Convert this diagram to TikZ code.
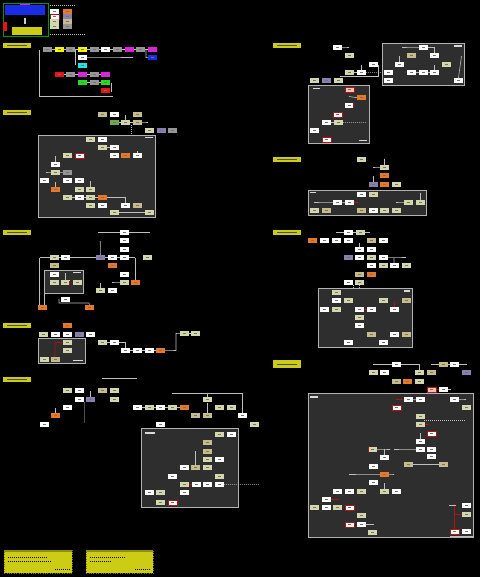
\documentclass[tikz,border=0pt]{standalone}
\definecolor{kh}{RGB}{212,214,172}
\definecolor{khp}{RGB}{196,188,138}
\definecolor{org}{RGB}{232,120,40}
\definecolor{pur}{RGB}{136,126,176}
\definecolor{gry}{RGB}{150,150,150}
\definecolor{pnl}{RGB}{46,46,46}
\definecolor{yel}{RGB}{204,204,20}
\definecolor{ln}{RGB}{190,190,190}
\definecolor{rd}{RGB}{175,20,20}
\definecolor{pnk}{RGB}{240,196,176}
\definecolor{grn}{RGB}{110,170,70}
\definecolor{cma}{RGB}{225,30,225}
\definecolor{cye}{RGB}{245,245,0}
\definecolor{cbl}{RGB}{25,45,230}
\definecolor{ccy}{RGB}{30,230,230}
\definecolor{cre}{RGB}{230,20,20}
\definecolor{cgr}{RGB}{30,225,30}
\newcommand\bx[4]{\node[#4] (#1) at (#2,#3) {\textcolor{black!55}{\rule{2.5pt}{0.8pt}}};}
\begin{document}
\begin{tikzpicture}[x={(1pt,0)},y={(0,-1pt)},
 bb/.style={inner sep=0pt, minimum width=8.5pt, minimum height=5pt, anchor=north west, font=\fontsize{2}{2}\selectfont},
 wb/.style={bb, fill=white},
 kb/.style={bb, fill=kh},
 kp/.style={bb, fill=khp},
 ob/.style={bb, fill=org},
 pb/.style={bb, fill=pur},
 gb/.style={bb, fill=gry},
 rb/.style={bb, fill=white, draw=rd, line width=0.7pt},
 pkb/.style={bb, fill=pnk, draw=rd, line width=0.7pt},
 gnb/.style={bb, fill=grn},
 cn/.style={draw=ln, line width=0.6pt},
 dcn/.style={draw=ln, line width=0.5pt, dash pattern=on 1pt off 1pt},
 rl/.style={draw=rd, line width=0.8pt},
 panel/.style={fill=pnl, draw=gray!60, line width=0.5pt},
 ylab/.style={fill=yel, inner sep=0pt, anchor=north west, minimum width=28pt, minimum height=5pt, font=\fontsize{2}{2}\selectfont},
 tbar/.style={fill=white!85!black},
]
\fill[black] (0,0) rectangle (480,577);
\useasboundingbox (0,0) rectangle (480,577);

% ---------------- legend ----------------
\draw[draw=green!60!black, line width=0.8pt, fill=black] (3,3) rectangle (48,36);
\fill[cbl] (5,5) rectangle (45,15);
\fill[cma] (20,4) rectangle (30,5.5);
\fill[yel] (12,27) rectangle (42,35);
\fill[cre] (3,22) rectangle (7,31);
\fill[white!80!black] (24,18) rectangle (26,24);
\bx{lg1}{50}{9}{wb}\bx{lg2}{63}{9}{ob}
\bx{lg3}{50}{14}{rb}\bx{lg4}{63}{14}{pb}
\bx{lg5}{50}{19}{kb}\bx{lg6}{63}{19}{kp}
\bx{lg7}{50}{24}{kb}\bx{lg8}{63}{24}{gb}
\draw[dcn] (50,5) -- (75,5);
\draw[dcn] (50,34.5) -- (85,34.5);

% ---------------- section 1 ----------------
\node[ylab] (L1) at (3,43) {\textcolor{black!70}{\rule{20pt}{0.8pt}}};
\bx{a1}{43}{47}{bb,fill=gry}\bx{a2}{55}{47}{bb,fill=cye}\bx{a3}{66}{47}{bb,fill=gry}
\bx{a4}{78}{47}{bb,fill=cye}\bx{a5}{90}{47}{bb,fill=gry}\bx{a6}{101}{47}{wb}
\bx{a7}{113}{47}{bb,fill=gry}\bx{a8}{125}{47}{bb,fill=cma}\bx{a9}{136}{47}{bb,fill=gry}
\bx{a10}{148}{47}{bb,fill=cma}
\draw[cn] (a1)--(a2) (a2)--(a3) (a3)--(a4) (a4)--(a5) (a5)--(a6) (a6)--(a7) (a7)--(a8) (a8)--(a9) (a9)--(a10);
\bx{a11}{148}{55}{bb,fill=cbl}
\draw[cn] (146,50) -- (146,57.5) -- (a11.west);
\bx{a12}{78}{55}{wb}
\draw[cn] (a12.east) -- (133,57.5);
\draw[cn] (75,50) -- (75,65);
\bx{a13}{78}{63}{bb,fill=ccy}
\bx{a14}{55}{72}{bb,fill=cre}\bx{a15}{66}{72}{bb,fill=gry}\bx{a16}{78}{72}{bb,fill=cma}
\bx{a17}{90}{72}{bb,fill=gry}\bx{a18}{101}{72}{bb,fill=cma}
\draw[cn] (a14)--(a15) (a15)--(a16) (a16)--(a17) (a17)--(a18);
\bx{a19}{78}{80}{bb,fill=cgr}\bx{a20}{90}{80}{bb,fill=gry}\bx{a21}{101}{80}{bb,fill=cgr}
\draw[cn] (a19)--(a20) (a20)--(a21);
\bx{a22}{101}{88}{bb,fill=cre}
\draw[cn] (39,50) -- (39,96) -- (113,96);
\draw[cn] (111,83) -- (111,92);

% ---------------- section 2 ----------------
\node[ylab] (L2) at (3,110) {\textcolor{black!70}{\rule{20pt}{0.8pt}}};
\bx{b1}{98}{112}{kp}\bx{b2}{110}{112}{wb}\bx{b3}{133}{112}{kp}
\bx{b4}{110}{120}{gnb}\bx{b5}{121}{120}{kb}\bx{b6}{133}{120}{kp}
\draw[cn] (b4)--(b5) (b5)--(b6);
\draw[cn] (b6.east) -- (148,122.5);
\draw[cn] (b5.north) -- ++(0,-5);
\draw[dcn] (131,125) -- (131,153);
\bx{b7}{145}{128}{kb}\bx{b8}{157}{128}{pb}\bx{b9}{168}{128}{gb}
\draw[panel] (38,135) rectangle (155,217);
\fill[tbar] (145,137) rectangle (153,138);
\bx{c1}{86}{137}{kb}\bx{c2}{98}{137}{wb}
\bx{c3}{98}{145}{kb}\bx{c4}{110}{145}{wb}
\draw[cn] (c3)--(c4);
\bx{c5}{63}{153}{kb}\bx{c6}{75}{153}{rb}\bx{c7}{110}{153}{wb}\bx{c8}{121}{153}{ob}\bx{c9}{133}{153}{wb}
\draw[cn] (c9.north) -- ++(0,-2);
\bx{c10}{51}{162}{wb}
\draw[cn] (c10.north) -- ++(0,-6);
\bx{c11}{51}{170}{kb}\bx{c12}{63}{170}{gb}
\draw[cn] (46,172.5) -- (c11.west) (c11)--(c12);
\bx{c13}{40}{178}{wb}\bx{c14}{63}{178}{wb}\bx{c15}{75}{178}{wb}
\bx{c16}{51}{187}{ob}
\draw[cn] (c16.north) -- ++(0,-5);
\bx{c17}{75}{187}{kb}\bx{c18}{86}{187}{kb}
\draw[cn] (c18.north) -- ++(0,-6);
\bx{c19}{63}{195}{kb}\bx{c20}{75}{195}{wb}\bx{c21}{86}{195}{kb}\bx{c22}{98}{195}{ob}
\draw[cn] (c19)--(c20) (c20)--(c21) (c21)--(c22);
\bx{c23}{121}{203}{wb}\bx{c24}{133}{203}{kp}
\draw[cn] (c22.east) -| (c23.north);
\bx{c25}{86}{203}{kb}\bx{c26}{98}{203}{wb}
\bx{c27}{110}{210}{kb}\bx{c28}{145}{210}{kb}
\draw[cn] (c27)--(c28);

% ---------------- section 3 ----------------
\node[ylab] (L3) at (3,230) {\textcolor{black!70}{\rule{20pt}{0.8pt}}};
\draw[cn] (98,232.5) -- (150,232.5);
\bx{d1}{120}{230}{wb}\bx{d2}{120}{238}{wb}\bx{d3}{120}{247}{wb}
\draw[cn] (40,257.5) -- (135,257.5);
\bx{d4}{50}{255}{kb}\bx{d5}{61}{255}{wb}\bx{d6}{96}{255}{pb}\bx{d7}{108}{255}{wb}
\bx{d8}{120}{255}{wb}\bx{d9}{143}{255}{kb}
\draw[cn] (d6.north) -- (100.25,241);
\bx{d10}{108}{263}{ob}\bx{d11}{50}{263}{kp}
\draw[cn] (39.5,257.5) -- (39.5,307);
\draw[cn] (135,257.5) -- (135,280);
\draw[panel] (44,270) rectangle (83,293);
\fill[tbar] (73,272) rectangle (81,273);
\bx{d12}{50}{272}{wb}\bx{d13}{50}{280}{kb}\bx{d14}{61}{280}{kb}\bx{d15}{73}{280}{kb}
\draw[cn] (d14.north) -- ++(0,-7);
\draw[rl] (69.5,280.5) -- (69.5,284.5);
\bx{d16}{120}{272}{wb}\bx{d17}{120}{280}{kb}\bx{d18}{131}{280}{ob}
\draw[cn] (112,282.5) -- (d17.west);
\bx{d19}{96}{288}{kb}\bx{d20}{108}{288}{wb}
\draw[cn] (d19.north) -- ++(0,-5);
\bx{d21}{61}{297}{wb}
\bx{d22}{38}{305}{ob}\bx{d23}{85}{305}{ob}
\draw[cn] (59,299) -- (59,303) -- (89,303) -- (d23.north);
\draw[cn] (44,293) -- (44,305);

% ---------------- section 4 ----------------
\node[ylab] (L4) at (3,323) {\textcolor{black!70}{\rule{20pt}{0.8pt}}};
\bx{e0}{63}{323}{ob}
\bx{e1}{39}{332}{kb}\bx{e2}{51}{332}{wb}\bx{e3}{63}{332}{wb}\bx{e4}{75}{332}{pb}\bx{e5}{86}{332}{wb}
\draw[panel] (38,338) rectangle (85,363);
\bx{e6}{63}{340}{kb}\bx{e7}{63}{348}{kb}\bx{e8}{40}{357}{kb}\bx{e9}{51}{357}{kp}
\draw[rl] (55,357) -- (55,342.5) -- (e6.west);
\fill[tbar] (73,359.5) rectangle (83,361);
\bx{e10}{98}{340}{kb}\bx{e11}{110}{340}{wb}
\draw[cn] (e10)--(e11);
\bx{e12}{121}{348}{wb}\bx{e13}{133}{348}{wb}\bx{e14}{145}{348}{wb}\bx{e15}{156}{348}{ob}
\draw[cn] (e11.east) -| (e12.north);
\draw[cn] (e12)--(e13) (e13)--(e14) (e14)--(e15);
\bx{e16}{180}{331}{kb}\bx{e17}{191}{331}{kb}
\draw[cn] (e16)--(e17);
\draw[cn] (e15.east) -- (176,350.5) -- (176,333.5) -- (e16.west);

% ---------------- section 5 ----------------
\node[ylab] (L5) at (3,377) {\textcolor{black!70}{\rule{20pt}{0.8pt}}};
\draw[cn] (102,378.5) -- (137,378.5);
\bx{f1}{63}{388}{kb}\bx{f2}{75}{388}{wb}\bx{f3}{98}{388}{kp}\bx{f4}{110}{388}{kb}
\bx{f5}{75}{397}{wb}\bx{f6}{86}{397}{pb}\bx{f7}{110}{397}{kb}
\draw[cn] (f6.north) -- ++(0,-6);
\draw[draw=gray!60!black, line width=0.5pt] (84,402) -- (84,423);
\bx{f8}{63}{405}{wb}\bx{f9}{133}{405}{wb}\bx{f10}{145}{405}{kb}\bx{f11}{156}{405}{wb}
\bx{f12}{168}{405}{kb}\bx{f13}{180}{405}{ob}
\draw[cn] (f9)--(f10) (f10)--(f11) (f11)--(f12) (f12)--(f13);
\bx{f14}{51}{413}{ob}
\draw[cn] (f14.north) -- ++(0,-5);
\bx{f15}{40}{422}{wb}
\draw[cn] (172,393.5) -- (242,393.5) -- (242,413);
\bx{f16}{203}{397}{kb}
\draw[cn] (f16.north) -- ++(0,-3);
\bx{f17}{215}{405}{kb}\bx{f18}{227}{405}{kb}
\bx{f19}{191}{413}{kp}\bx{f20}{203}{413}{kp}
\draw[cn] (f20.north) -- ++(0,-10);
\bx{f21}{238}{413}{wb}\bx{f22}{250}{422}{kb}\bx{f23}{156}{422}{wb}
\draw[panel] (141,428) rectangle (238,507);
\fill[tbar] (145,432) rectangle (155,433.5);
\bx{g1}{215}{432}{kb}\bx{g2}{227}{432}{wb}
\bx{g3}{203}{440}{kp}\bx{g4}{203}{449}{kp}\bx{g5}{203}{457}{kb}\bx{g6}{215}{457}{wb}
\bx{g7}{191}{465}{kp}\bx{g8}{203}{465}{kb}\bx{g9}{180}{465}{wb}
\draw[cn] (g7.north) -- ++(0,-14);
\bx{g10}{168}{474}{wb}\bx{g11}{215}{474}{kb}
\bx{g12}{180}{482}{kb}\bx{g13}{192}{482}{wb}\bx{g14}{203}{482}{wb}\bx{g15}{215}{482}{wb}
\draw[rl] (g12.east) -- (g13.west);
\draw[dcn] (g15.east) -- (260,484.5);
\bx{g16}{180}{490}{wb}\bx{g17}{145}{490}{wb}\bx{g18}{156}{490}{kb}
\bx{g19}{156}{500}{kb}\bx{g20}{168}{500}{rb}

% ---------------- bottom notes ----------------
\node[fill=yel, draw=yel!60!black, dotted, inner sep=0pt, anchor=north west, minimum width=68pt, minimum height=23pt] (n1) at (4,550) {};
\node[fill=yel, draw=yel!60!black, dotted, inner sep=0pt, anchor=north west, minimum width=67pt, minimum height=23pt] (n2) at (86,550) {};
\fill[yel!70!black] (4,550) rectangle (72,552);
\fill[yel!70!black] (86,550) rectangle (153,552);
\draw[dcn, draw=black] (8,557) -- (48,557) (8,561) -- (52,561) (55,569) -- (70,569);
\draw[dcn, draw=black] (90,557) -- (125,557) (90,561) -- (112,561) (135,569) -- (150,569);

% ---------------- section 7 ----------------
\node[ylab] (L7) at (273,43) {\textcolor{black!70}{\rule{20pt}{0.8pt}}};
\bx{h1}{333}{45}{wb}
\draw[cn] (h1.east) -- (349,47.5);
\bx{h2}{345}{53}{kb}\bx{h3}{369}{62}{wb}
\bx{h4}{345}{70}{kb}\bx{h5}{357}{70}{wb}
\draw[cn] (h4)--(h5) (h5.north) -- ++(0,-5);
\draw[dcn] (h5.east) -- (384,72.5);
\draw[cn] (340,76) -- (378,76) -- (378,65);
\bx{h6}{310}{78}{kb}\bx{h7}{322}{78}{pb}\bx{h8}{334}{78}{kb}
\draw[panel] (382,43) rectangle (464,85);
\fill[tbar] (454,45) rectangle (462,47);
\bx{i1}{419}{45}{wb}
\draw[cn] (402,47.5) -- (i1.west);
\bx{i2}{430}{53}{wb}
\draw[cn] (i1.east) -| (i2.north);
\bx{i3}{407}{53}{kp}\bx{i4}{395}{62}{wb}
\draw[cn] (i4.north) -- ++(0,-6);
\bx{i5}{442}{62}{kb}
\bx{i6}{384}{70}{wb}\bx{i7}{407}{70}{wb}\bx{i8}{419}{70}{wb}\bx{i9}{430}{70}{wb}
\draw[cn] (i7)--(i8) (i8)--(i9) (i9.north) -- ++(0,-5);
\bx{i10}{454}{78}{wb}
\draw[cn] (i10.north) -- (461.5,56);
\bx{i11}{384}{78}{wb}
\draw[panel] (308,85) rectangle (369,143);
\fill[tbar] (313,88) rectangle (320,89);
\bx{j1}{345}{87}{pkb}\bx{j2}{357}{95}{ob}
\draw[cn] (349,96.5) -- (j2.west);
\bx{j3}{345}{103}{wb}
\draw[rl] (353.5,103) -- (353.5,108);
\bx{j4}{333}{112}{rb}
\bx{j5}{322}{120}{wb}\bx{j6}{334}{120}{kb}
\draw[cn] (j5)--(j6);
\draw[dcn] (j6.east) -- (367,122.5);
\bx{j7}{310}{128}{wb}\bx{j8}{322}{137}{rb}
\fill[tbar] (359,140) rectangle (367,141.5);

% ---------------- section 8 ----------------
\node[ylab] (L8) at (273,157) {\textcolor{black!70}{\rule{20pt}{0.8pt}}};
\bx{k1}{357}{157}{kb}
\bx{k2}{380}{165}{kb}
\draw[cn] (k2.north) -- ++(0,-6) (373,167.5) -- (k2.west);
\bx{k3}{380}{173}{ob}
\bx{k4}{369}{182}{pb}\bx{k5}{380}{182}{ob}\bx{k6}{392}{182}{kb}
\draw[cn] (k4.north) -- ++(0,-6);
\draw[panel] (308,190) rectangle (426,215);
\fill[tbar] (310,192) rectangle (316,193);
\bx{k7}{357}{192}{wb}\bx{k8}{369}{192}{kb}
\bx{k9}{333}{200}{wb}\bx{k10}{345}{200}{wb}
\draw[cn] (314,202.5) -- (k9.west) (k9)--(k10);
\draw[rl] (k10.east) -- ++(5,0);
\bx{k11}{404}{200}{kb}\bx{k12}{416}{200}{kb}
\draw[cn] (k12.north) -- ++(0,-7) (396,202.5) -- (k11.west);
\bx{k13}{310}{208}{kb}\bx{k14}{322}{208}{kp}\bx{k15}{357}{208}{kp}\bx{k16}{369}{208}{wb}
\bx{k17}{380}{208}{kb}\bx{k18}{392}{208}{kb}

% ---------------- section 9 ----------------
\node[ylab] (L9) at (273,230) {\textcolor{black!70}{\rule{20pt}{0.8pt}}};
\draw[cn] (336,232.5) -- (370,232.5);
\bx{m1}{344}{230}{wb}\bx{m2}{356}{230}{kb}
\bx{m3}{308}{238}{ob}\bx{m4}{320}{238}{wb}\bx{m5}{332}{238}{wb}\bx{m6}{344}{238}{wb}
\bx{m7}{367}{238}{kp}\bx{m8}{379}{238}{wb}
\bx{m9}{355}{247}{wb}\bx{m10}{367}{247}{wb}
\draw[cn] (m9.north) -- ++(0,-4);
\bx{m11}{344}{255}{pb}\bx{m12}{355}{255}{wb}\bx{m13}{367}{255}{kb}\bx{m14}{379}{255}{wb}
\draw[cn] (m14.east) -- (406,257.5) (394,257.5) -- (394,263);
\bx{m15}{367}{263}{wb}\bx{m16}{379}{263}{kb}\bx{m17}{390}{263}{wb}\bx{m18}{402}{263}{kb}
\bx{m19}{355}{272}{kp}\bx{m20}{367}{272}{ob}
\bx{m21}{344}{280}{wb}\bx{m22}{355}{280}{kb}
\draw[dcn] (353,285) -- (353,305) (359.5,285) -- (359.5,307);
\draw[panel] (318,288) rectangle (412,347);
\fill[tbar] (404,290) rectangle (410,292);
\bx{m23}{332}{290}{kb}\bx{m24}{332}{298}{wb}\bx{m25}{344}{298}{kb}
\bx{m26}{320}{307}{wb}\bx{m27}{332}{307}{kb}
\bx{m28}{379}{298}{kb}\bx{m29}{402}{298}{kp}
\bx{m30}{355}{307}{wb}\bx{m31}{367}{307}{wb}\bx{m32}{390}{307}{wb}
\draw[rl] (m30.east) -- (m31.west);
\draw[rl] (394.25,301) -- (m32.north);
\bx{m33}{355}{315}{kb}\bx{m34}{355}{323}{wb}
\bx{m35}{367}{332}{kp}\bx{m36}{390}{332}{wb}\bx{m37}{402}{332}{kp}
\bx{m38}{344}{340}{wb}\bx{m39}{379}{340}{wb}

% ---------------- section 10 ----------------
\node[ylab, minimum height=8pt] (L10) at (273,360) {\textcolor{black!70}{\rule{20pt}{0.8pt}}};
\draw[cn] (373,364.5) -- (420,364.5) (419,364.5) -- (419,370);
\bx{q1}{392}{362}{wb}
\draw[cn] (431,364.5) -- (467,364.5);
\bx{q2}{439}{362}{kp}\bx{q3}{450}{362}{wb}
\bx{q4}{369}{370}{kb}\bx{q5}{380}{370}{wb}\bx{q6}{415}{370}{kb}\bx{q7}{427}{370}{kp}\bx{q8}{462}{370}{pb}
\bx{q9}{392}{379}{kp}\bx{q10}{403}{379}{ob}\bx{q11}{415}{379}{kb}
\bx{q12}{427}{387}{pkb}\bx{q13}{439}{387}{wb}
\draw[rl] (q12.east) -- (q13.west);
\draw[cn] (q13.east) -- ++(3,0);
\draw[panel] (308,393) rectangle (473,537);
\fill[tbar] (310,396) rectangle (318,397.5);
\bx{r1}{404}{397}{wb}\bx{r2}{416}{397}{wb}\bx{r3}{450}{397}{wb}
\draw[rl] (396,399.5) -- (r1.west);
\draw[cn] (r1)--(r2) (r3.east) -- (466,399.5);
\bx{r4}{462}{405}{kb}\bx{r5}{392}{405}{rb}
\bx{r6}{416}{414}{kb}\bx{r7}{416}{422}{kb}
\draw[rl] (r7.east) -- ++(4,0);
\draw[dcn] (424,420) -- (466,420);
\bx{r8}{427}{431}{rb}
\bx{r9}{416}{439}{wb}
\draw[cn] (r9.north) -- ++(0,-6);
\bx{r10}{368}{447}{kb}\bx{r11}{416}{447}{wb}\bx{r12}{427}{447}{wb}
\draw[rl] (368.5,447) -- (368.5,452);
\draw[cn] (r10.east) -- (390,449.5) (394,449.5) -- (r11.west);
\bx{r13}{380}{455}{wb}\bx{r14}{427}{454}{wb}
\draw[cn] (r13.north) -- ++(0,-6);
\bx{r15}{404}{462}{kp}\bx{r16}{439}{462}{kp}
\draw[cn] (r15)--(r16);
\bx{r17}{369}{464}{wb}
\bx{r18}{380}{472}{ob}
\draw[cn] (349,474.5) -- (r18.west) (r18.east) -- (394,474.5);
\bx{r19}{369}{480}{wb}
\bx{r20}{380}{489}{kb}\bx{r21}{392}{489}{wb}
\draw[cn] (r20.north) -- ++(0,-6);
\bx{r22}{333}{489}{wb}\bx{r23}{345}{489}{wb}\bx{r24}{357}{489}{kb}
\bx{r25}{322}{497}{wb}
\draw[rl] (r25.east) -- ++(8,0);
\bx{r26}{310}{505}{kb}\bx{r27}{322}{505}{wb}\bx{r28}{333}{505}{kb}\bx{r29}{345}{505}{rb}
\bx{r30}{357}{513}{kb}
\bx{r31}{345}{522}{rb}\bx{r32}{357}{522}{wb}
\draw[cn] (r32.east) -- ++(8,0);
\bx{r33}{368}{530}{kb}
\bx{r34}{462}{503}{wb}\bx{r35}{462}{512}{kb}
\bx{r36}{450}{529}{rb}\bx{r37}{462}{529}{wb}
\draw[rl] (454.5,504) -- (r36.north) (454.5,514.5) -- (r35.west);
\draw[cn] (450,536) -- (473,536);
\draw[cn] (449,505.5) -- (456,505.5);
\end{tikzpicture}
\end{document}
